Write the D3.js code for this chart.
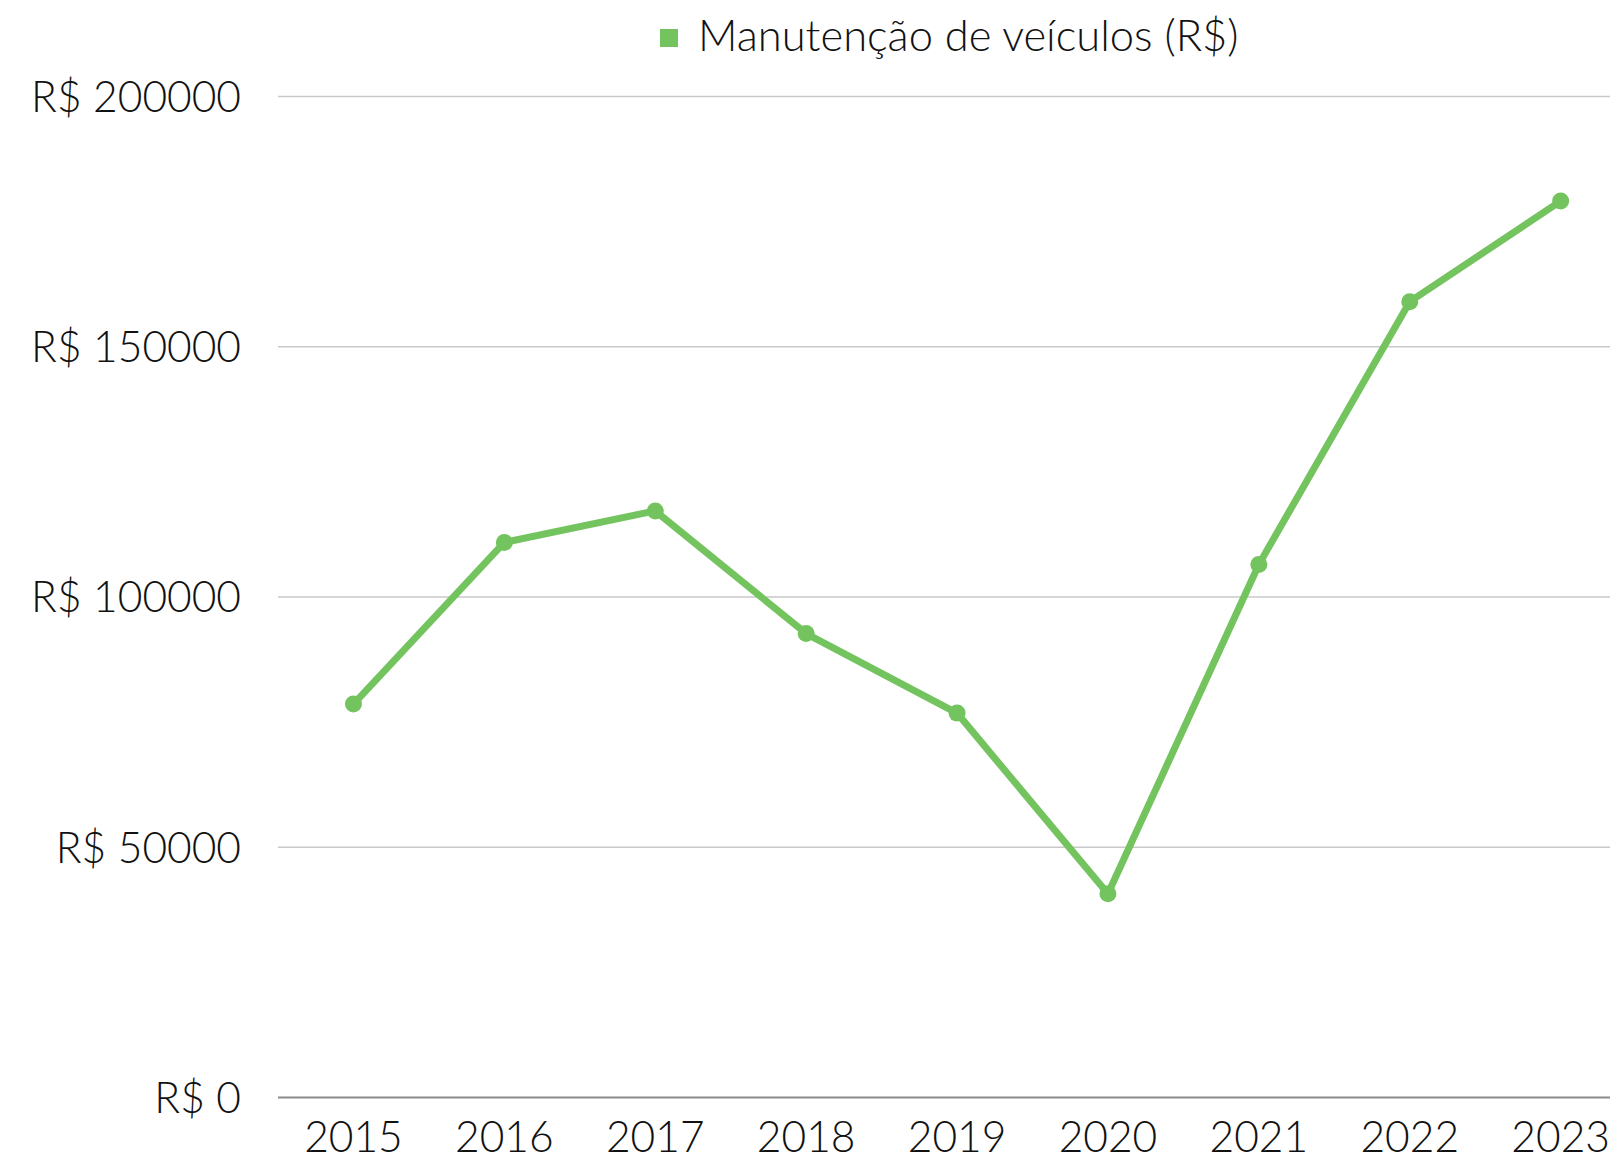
<!DOCTYPE html>
<html>
<head>
<meta charset="utf-8">
<script src="https://cdn.jsdelivr.net/npm/d3@7"></script>
<style>
  html, body { margin: 0; padding: 0; background: #fff; }
  svg { display: block; font-family: Lato, "Noto Sans", sans-serif; font-weight: 300; }
</style>
</head>
<body>
<div id="chart"></div>
<script>
// chart data
var years = ["2015", "2016", "2017", "2018", "2019", "2020", "2021", "2022", "2023"];
var valores = [78600, 110900, 117200, 92700, 76800, 40700, 106500, 159000, 179100];
var yTicks = [0, 50000, 100000, 150000, 200000];
var seriesName = "Manutenção de veículos (R$)";

var WIDTH = 1610,
    HEIGHT = 1159,
    LEFT = 278,
    TOP = 96.5,
    BOTTOM = 1097.5,
    COLOR = "#73c45e";

var svg = d3.select("#chart")
    .append("svg")
    .attr("width", WIDTH)
    .attr("height", HEIGHT);

// the plot area runs past the right edge of the picture, like in the source
var x = d3.scaleBand()
    .domain(years)
    .range([LEFT, LEFT + 150.9 * years.length]);

var y = d3.scaleLinear()
    .domain([0, 200000])
    .range([BOTTOM, TOP]);

// gridlines
svg.append("g")
    .selectAll("line")
    .data(yTicks.filter(function (d) { return d > 0; }))
    .enter().append("line")
    .attr("x1", LEFT)
    .attr("x2", WIDTH)
    .attr("y1", function (d) { return y(d); })
    .attr("y2", function (d) { return y(d); })
    .attr("stroke", "#c9c9c9")
    .attr("stroke-width", 1.5);

// y labels
svg.append("g")
    .selectAll("text")
    .data(yTicks)
    .enter().append("text")
    .attr("x", 241)
    .attr("y", function (d) { return y(d); })
    .attr("dy", "0.36em")
    .attr("text-anchor", "end")
    .attr("font-size", 42.5)
    .attr("fill", "#111")
    .text(function (d) { return "R$ " + d; });

// baseline
svg.append("line")
    .attr("x1", LEFT)
    .attr("x2", WIDTH)
    .attr("y1", y(0))
    .attr("y2", y(0))
    .attr("stroke", "#8a8a8a")
    .attr("stroke-width", 2);

// x labels
svg.append("g")
    .selectAll("text")
    .data(years)
    .enter().append("text")
    .attr("x", function (d) { return x(d) + x.bandwidth() / 2; })
    .attr("y", 1152)
    .attr("text-anchor", "middle")
    .attr("font-size", 42.5)
    .attr("fill", "#111")
    .text(function (d) { return d; });

// line
var line = d3.line()
    .x(function (d, i) { return x(years[i]) + x.bandwidth() / 2; })
    .y(function (d) { return y(d); });

svg.append("path")
    .datum(valores)
    .attr("d", line)
    .attr("fill", "none")
    .attr("stroke", COLOR)
    .attr("stroke-width", 7)
    .attr("stroke-linejoin", "round");

svg.append("g")
    .selectAll("circle")
    .data(valores)
    .enter().append("circle")
    .attr("cx", function (d, i) { return x(years[i]) + x.bandwidth() / 2; })
    .attr("cy", function (d) { return y(d); })
    .attr("r", 8.5)
    .attr("fill", COLOR);

// legend
var legend = svg.append("g");
legend.append("rect")
    .attr("x", 660)
    .attr("y", 29)
    .attr("width", 18)
    .attr("height", 18)
    .attr("fill", COLOR);
legend.append("text")
    .attr("x", 698)
    .attr("y", 51)
    .attr("font-size", 43.5)
    .attr("fill", "#111")
    .text(seriesName);
</script>
</body>
</html>
